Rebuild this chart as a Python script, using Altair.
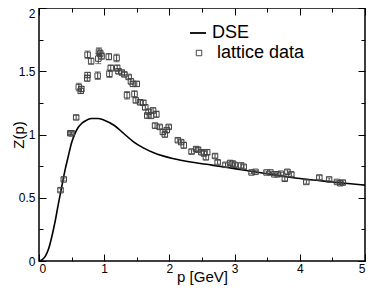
import altair as alt
import pandas as pd

# DSE curve
dse_p = [0, 0.05, 0.1, 0.15, 0.2, 0.25, 0.3, 0.35, 0.4, 0.45, 0.5, 0.55, 0.6, 0.65, 0.7,
         0.8, 0.9, 1.0, 1.15, 1.3, 1.45, 1.6, 1.75, 1.9, 2.05, 2.35, 2.65, 3.0, 3.5, 4.0, 4.5, 5.0]
dse_z = [0, 0.01, 0.04, 0.10, 0.20, 0.32, 0.46, 0.59, 0.72, 0.83, 0.935, 1.005, 1.055, 1.085, 1.105,
         1.127, 1.127, 1.113, 1.073, 1.008, 0.942, 0.894, 0.858, 0.831, 0.81, 0.78, 0.758, 0.73, 0.69, 0.652, 0.625, 0.60]

# lattice data
lat_p = [0.33, 0.38, 0.48, 0.50, 0.57, 0.61, 0.64, 0.65, 0.74, 0.745, 0.745, 0.80, 0.90, 0.91, 0.92,
         0.94, 0.96, 1.07, 1.08, 1.10, 1.19, 1.20, 1.22, 1.27, 1.31, 1.35, 1.375, 1.41, 1.44, 1.465,
         1.485, 1.50, 1.55, 1.60, 1.63, 1.66, 1.68, 1.72, 1.75, 1.78, 1.80, 1.85, 1.90, 1.93, 1.96,
         1.99, 2.13, 2.18, 2.22, 2.34, 2.41, 2.44, 2.49, 2.53, 2.56, 2.58, 2.70, 2.74, 2.86, 2.93,
         2.97, 3.00, 3.10, 3.14, 3.26, 3.32, 3.49, 3.55, 3.61, 3.66, 3.71, 3.77, 3.81, 3.87, 4.10,
         4.30, 4.45, 4.57, 4.62, 4.66]
lat_z = [0.56, 0.645, 1.01, 1.01, 1.135, 1.375, 1.345, 1.36, 1.445, 1.47, 1.63, 1.58, 1.465, 1.60, 1.655,
         1.64, 1.62, 1.615, 1.48, 1.525, 1.605, 1.525, 1.50, 1.49, 1.475, 1.31, 1.455, 1.42, 1.40, 1.32,
         1.27, 1.40, 1.255, 1.25, 1.215, 1.15, 1.18, 1.15, 1.19, 1.07, 1.16, 1.06, 1.02, 1.00, 1.035,
         1.06, 0.955, 0.94, 0.915, 0.865, 0.885, 0.88, 0.86, 0.85, 0.82, 0.86, 0.83, 0.78, 0.76, 0.775,
         0.77, 0.76, 0.755, 0.745, 0.70, 0.705, 0.70, 0.70, 0.685, 0.685, 0.69, 0.65, 0.705, 0.685, 0.625,
         0.66, 0.645, 0.625, 0.615, 0.62]
lat_err = [0.012, 0.012, 0.012, 0.012, 0.015, 0.03, 0.02, 0.02, 0.025, 0.02, 0.03, 0.025, 0.03, 0.04, 0.03,
           0.025, 0.025, 0.025, 0.03, 0.025, 0.03, 0.025, 0.02, 0.015, 0.015, 0.03, 0.015, 0.02, 0.02, 0.025,
           0.02, 0.02, 0.02, 0.02, 0.02, 0.02, 0.02, 0.025, 0.02, 0.02, 0.025, 0.015, 0.02, 0.02, 0.02,
           0.015, 0.015, 0.015, 0.025, 0.015, 0.015, 0.015, 0.015, 0.015, 0.02, 0.02, 0.015, 0.015, 0.015, 0.015,
           0.02, 0.015, 0.02, 0.015, 0.01, 0.01, 0.01, 0.01, 0.01, 0.01, 0.01, 0.015, 0.015, 0.015, 0.015,
           0.015, 0.012, 0.01, 0.012, 0.015]

x_major = [0, 1, 2, 3, 4, 5]
y_major = [0, 0.5, 1, 1.5, 2]
x_ticks = [i * 0.5 for i in range(11)]
y_ticks = [i * 0.25 for i in range(9)]

dse = pd.DataFrame({"p": dse_p, "z": dse_z, "series": "DSE"})
lat = pd.DataFrame({
    "p": lat_p, "z": lat_z,
    "lo": [z - e for z, e in zip(lat_z, lat_err)],
    "hi": [z + e for z, e in zip(lat_z, lat_err)],
    "series": "lattice data",
})

W, H = 326, 253
xs = alt.Scale(domain=[0, 5], nice=False, zero=False)
ys = alt.Scale(domain=[0, 2], nice=False)
EB = "#444444"


def tick_axis(orient, values, offset, test):
    return alt.Axis(orient=orient, values=values, offset=offset, labels=False, title=None,
                    domain=False, grid=False, ticks=True, tickColor="black", tickWidth=1,
                    tickSize={"condition": {"test": test, "value": 7}, "value": 4})


line = alt.Chart(dse).mark_line(strokeWidth=1.6, interpolate="monotone").encode(
    x=alt.X("p:Q", scale=xs, axis=alt.Axis(
        orient="bottom", values=x_major, ticks=False, domain=False, grid=False,
        labelPadding=2, labelFontSize=12, title="p [GeV]", titleFontSize=15,
        titleFontWeight="normal", titleBaseline="alphabetic", titleY=20)),
    y=alt.Y("z:Q", scale=ys, axis=alt.Axis(
        orient="left", values=y_major, format="~g", ticks=False, domain=False, grid=False,
        labelPadding=4, labelFontSize=12,
        labelBaseline={"condition": {"test": "datum.value === 2", "value": "top"}, "value": "middle"},
        title="Z(p)", titleFontSize=15, titleFontWeight="normal", titleX=-13)),
    color=alt.Color("series:N", scale=alt.Scale(domain=["DSE"], range=["black"]),
                    legend=alt.Legend(title=None, orient="none", legendX=150, legendY=16,
                                      labelFontSize=18, labelColor="black", symbolType="stroke",
                                      symbolSize=256, symbolStrokeWidth=1.8, labelOffset=5,
                                      padding=0)),
)

rules = alt.Chart(lat).mark_rule(color=EB, strokeWidth=1).encode(
    x=alt.X("p:Q", scale=xs, axis=tick_axis("top", x_ticks, -H, "datum.value % 1 === 0")),
    y=alt.Y("lo:Q", scale=ys, axis=tick_axis("right", y_ticks, -W, "datum.value % 0.5 === 0")),
    y2="hi:Q",
)

caps = alt.Chart(lat).transform_fold(["lo", "hi"], as_=["end", "val"]).mark_tick(
    orient="horizontal", size=6, thickness=1, color=EB).encode(
    x=alt.X("p:Q", scale=xs, axis=tick_axis("bottom", x_ticks, -H, "datum.value % 1 === 0")),
    y=alt.Y("val:Q", scale=ys, axis=tick_axis("left", y_ticks, -W, "datum.value % 0.5 === 0")),
)

pts = alt.Chart(lat).mark_point(filled=False, size=30, strokeWidth=1, color=EB, opacity=1).encode(
    x=alt.X("p:Q", scale=xs, axis=None),
    y=alt.Y("z:Q", scale=ys, axis=None),
    shape=alt.Shape("series:N", scale=alt.Scale(domain=["lattice data"], range=["square"]),
                    legend=alt.Legend(title=None, orient="none", legendX=151, legendY=36,
                                      labelFontSize=18, labelColor="black", symbolSize=30,
                                      symbolStrokeColor=EB, symbolStrokeWidth=1,
                                      symbolFillColor="transparent", labelOffset=9, padding=0)),
)

chart = alt.layer(line, rules, caps, pts).resolve_axis(
    x="independent", y="independent"
).properties(
    width=W, height=H,
    autosize=alt.AutoSizeParams(type="none"),
    padding={"left": 31, "top": 0, "right": 1, "bottom": 24},
).configure(font="Liberation Sans").configure_view(
    stroke="black", strokeWidth=1.5
).configure_axis(labelColor="black", titleColor="black")

chart.save("out.html", embed_options={"renderer": "svg", "actions": False})
